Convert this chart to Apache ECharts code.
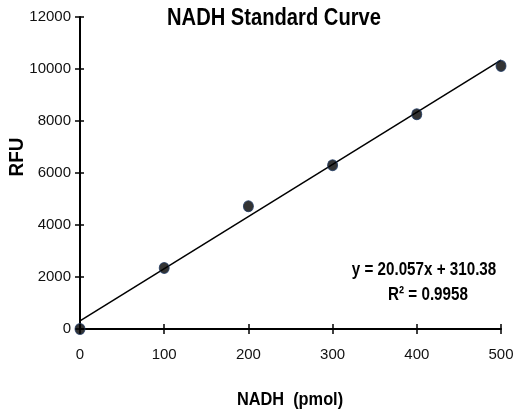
<!DOCTYPE html>
<html>
<head>
<meta charset="utf-8">
<script src="https://cdn.jsdelivr.net/npm/echarts@6/dist/echarts.min.js"></script>
<style>
  html, body { margin: 0; padding: 0; background: #fff; }
  #main { width: 517px; height: 417px; }
</style>
</head>
<body>
<div id="main"></div>
<script>
// NADH standard curve data
var nadhPmol = [0, 100, 200, 300, 400, 500];
var rfu = [0, 2350, 4720, 6300, 8260, 10120];
// linear fit endpoints (y = 20.057x + 310.38)
var trendX = [0, 500];
var trendY = [310.38, 10338.88];
var fitText = ['y = 20.057x + 310.38', 'R\u00b2 = 0.9958'];

var font = '"Liberation Sans", Arial, sans-serif';

var chart = echarts.init(document.getElementById('main'));

var xBase = {
  type: 'value', min: 0, max: 500, interval: 100,
  splitLine: { show: false }
};
var yBase = {
  type: 'value', min: 0, max: 12000, interval: 2000,
  splitLine: { show: false }
};

chart.setOption({
  animation: false,
  grid: { left: 80, right: 16, top: 17, bottom: 88, outerBoundsMode: 'none', containLabel: false },
  xAxis: [
    Object.assign({}, xBase, {
      axisLine: { lineStyle: { color: '#000', width: 2 } },
      axisTick: { length: 5, lineStyle: { color: '#000', width: 1.5 } },
      axisLabel: { margin: 18, fontFamily: font, fontSize: 15, color: '#111' }
    }),
    Object.assign({}, xBase, {
      position: 'bottom',
      axisLine: { show: false },
      axisTick: { inside: true, length: 5, lineStyle: { color: '#000', width: 1.5 } },
      axisLabel: { show: false }
    })
  ],
  yAxis: [
    Object.assign({}, yBase, {
      axisLine: { lineStyle: { color: '#000', width: 2 } },
      axisTick: { length: 5, lineStyle: { color: '#000', width: 1.5 } },
      axisLabel: {
        margin: 9, fontFamily: font, fontSize: 15, color: '#111',
        formatter: function (v) { return String(v); }
      }
    }),
    Object.assign({}, yBase, {
      position: 'left',
      axisLine: { show: false },
      axisTick: { inside: true, length: 4, lineStyle: { color: '#000', width: 1.5 } },
      axisLabel: { show: false }
    })
  ],
  series: [
    {
      type: 'line',
      data: trendX.map(function (x, i) { return [x, trendY[i]]; }),
      symbol: 'none',
      lineStyle: { color: '#000', width: 1.5 },
      z: 2
    },
    {
      type: 'scatter',
      data: nadhPmol.map(function (x, i) { return [x, rfu[i]]; }),
      symbol: 'circle',
      symbolSize: [10, 11],
      itemStyle: { color: '#000', borderColor: '#1d3760', borderWidth: 1 },
      z: 3
    }
  ],
  graphic: [
    {
      type: 'text', x: 274, y: 18, scaleX: 0.84,
      style: {
        text: 'NADH Standard Curve', font: 'bold 24px ' + font, fill: '#000',
        align: 'center', verticalAlign: 'middle'
      }
    },
    {
      type: 'text', x: 17, y: 157, rotation: Math.PI / 2, scaleX: 0.9,
      style: {
        text: 'RFU', font: 'bold 21px ' + font, fill: '#000',
        align: 'center', verticalAlign: 'middle'
      }
    },
    {
      type: 'text', x: 290, y: 400, scaleX: 0.86,
      style: {
        text: 'NADH  (pmol)', font: 'bold 19px ' + font, fill: '#000',
        align: 'center', verticalAlign: 'middle'
      }
    },
    {
      type: 'text', x: 424, y: 270, scaleX: 0.8,
      style: {
        text: fitText[0], font: 'bold 19px ' + font, fill: '#000',
        align: 'center', verticalAlign: 'middle'
      }
    },
    {
      type: 'text', x: 428, y: 295, scaleX: 0.8,
      style: {
        text: fitText[1], font: 'bold 19px ' + font, fill: '#000',
        align: 'center', verticalAlign: 'middle'
      }
    }
  ]
});
</script>
</body>
</html>
